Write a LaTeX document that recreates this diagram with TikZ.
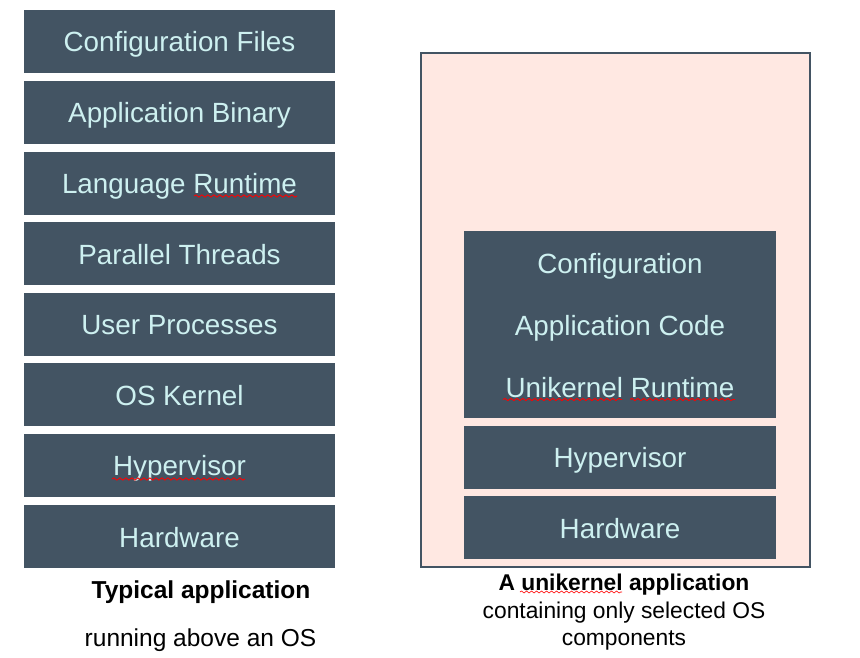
\documentclass[tikz,border=0pt]{standalone}
\usepackage{fontspec}
\setmainfont{Liberation Sans}
\usetikzlibrary{calc,decorations.pathmorphing}
\definecolor{slate}{RGB}{67,84,99}
\definecolor{boxtext}{RGB}{205,240,240}
\definecolor{pinkbg}{RGB}{255,232,226}
\begin{document}
\begin{tikzpicture}[x=1pt,y=-1pt,
  layer/.style={fill=slate, text=boxtext, minimum width=311pt, minimum height=63pt, inner sep=0pt, text height=24.5pt, text depth=5.5pt, font=\fontsize{27.8}{33}\selectfont},
  nodesc/.style={text depth=2.1pt},
  ulayer/.style={layer, minimum width=312pt},
  utext/.style={text=boxtext, inner sep=0pt, text height=24.5pt, text depth=5.5pt, font=\fontsize{27.8}{33}\selectfont},
  captb/.style={inner sep=0pt, font=\fontsize{24.5}{29}\selectfont\bfseries},
  captr/.style={inner sep=0pt, font=\fontsize{24.5}{29}\selectfont},
  rcapt/.style={inner sep=0pt, font=\fontsize{22.8}{27.5}\selectfont},
  squig/.style={draw=red, line width=0.9pt, decorate, decoration={snake, segment length=6pt, amplitude=1.1pt}},
  thinsquig/.style={squig, line width=0.6pt, decoration={snake, segment length=5pt, amplitude=1pt}}]
\useasboundingbox (0,0) rectangle (860,657);
% left stack
\node[layer] (l1) at (179.5,41.5) {Configuration Files};
\node[layer] (l2) at (179.5,112.5) {Application Binary};
\node[layer] (l3) at (179.5,183.5) {Language Runtime};
\node[layer, nodesc] (l4) at (179.5,253.5) {Parallel Threads};
\node[layer] (l5) at (179.5,324.5) {User Processes};
\node[layer, nodesc] (l6) at (179.5,394.5) {OS Kernel};
\node[layer] (l7) at (179.5,465.5) {Hypervisor};
\node[layer, nodesc] (l8) at (179.5,536.5) {Hardware};
\node[captb] (c1) at (201,592) {Typical application};
\node[captr] (c2) at (200.5,640) {running above an OS};
% right
\node[draw=slate, line width=2pt, fill=pinkbg, minimum width=389pt, minimum height=514pt, inner sep=0pt] (outer) at (615.5,310) {};
\node[ulayer, minimum height=187pt] (u1) at (620,324.5) {};
\node[utext] (t1) at (620,264) {Configuration};
\node[utext] (t2) at (620,325.5) {Application Code};
\node[utext] (t3) at (620,387.5) {Unikernel Runtime};
\node[ulayer] (u2) at (620,457.5) {Hypervisor};
\node[ulayer, nodesc] (u3) at (620,527.5) {Hardware};
\node[rcapt, align=center] (rc) at (624,612.5) {\textbf{A unikernel application}\\containing only selected OS\\components};
% spell-check squiggles
\draw[squig] ($(l3.center)+(14.5,12.5)$) -- ($(l3.center)+(117.5,12.5)$);
\draw[squig] ($(l7.center)+(-67.5,13.5)$) -- ($(l7.center)+(65.5,13.5)$);
\draw[squig] ($(t3.center)+(-117,12)$) -- ($(t3.center)+(2,12)$);
\draw[squig] ($(t3.center)+(10,12)$) -- ($(t3.center)+(115,12)$);
\draw[thinsquig] ($(rc.center)+(-104,-20.5)$) -- ($(rc.center)+(-2,-20.5)$);
\end{tikzpicture}
\end{document}
